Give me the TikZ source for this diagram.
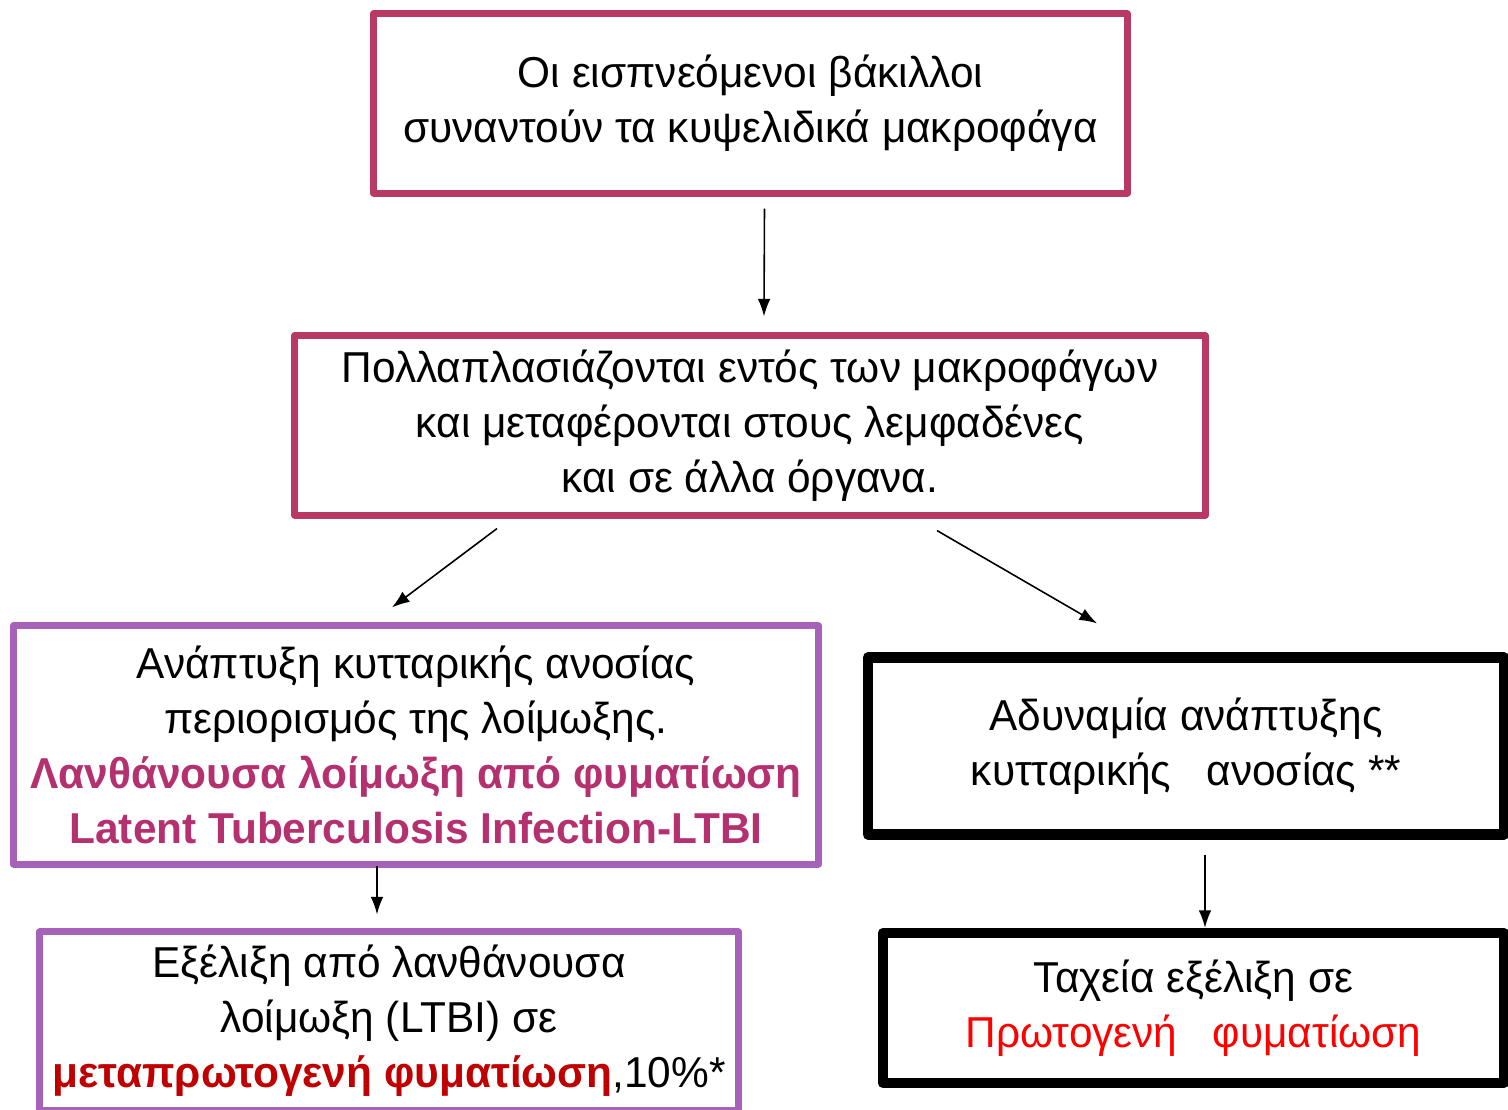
\documentclass[tikz,border=0pt]{standalone}
\usepackage{fontspec}
\setmainfont[FakeStretch=0.98]{Liberation Sans}
\usetikzlibrary{%
  arrows.meta,%
  calc%
}
\definecolor{roseline}{HTML}{B83A64}
\definecolor{lilacline}{HTML}{A662B8}
\definecolor{latentred}{HTML}{B5306E}
\definecolor{darkred}{HTML}{C00000}

\begin{document}
\begin{tikzpicture}[
    x=0.01cm,y=-0.01cm,
    >={Latex[length=5pt,width=3.6pt]},line join=round,
    box/.style={rectangle,draw,fill=white,align=center,inner sep=0pt,
        font=\fontsize{12.3}{15.6}\selectfont},
    rosebox/.style={box,draw=roseline,line width=2pt},
    lilacbox/.style={box,draw=lilacline,line width=2pt},
    blackbox/.style={box,draw=black,line width=2.9pt},
    arr/.style={->,line width=0.45pt}
  ]
    \useasboundingbox (0,0) rectangle (1508,1110);

    \node [rosebox,minimum width=7.53cm,minimum height=1.79cm]
        (inhaled) at (750.5,103.5)
        {Οι εισπνεόμενοι βάκιλλοι\\συναντούν τα κυψελιδικά μακροφάγα};
    \node [rosebox,minimum width=9.10cm,minimum height=1.79cm]
        (multiply) at (750,425.5)
        {Πολλαπλασιάζονται εντός των μακροφάγων\\και μεταφέρονται στους λεμφαδένες\\και σε άλλα όργανα.};
    \node [lilacbox,minimum width=8.04cm,minimum height=2.38cm]
        (immunity) at (416,745)
        {Ανάπτυξη κυτταρικής ανοσίας\\περιορισμός της λοίμωξης.\\
         \textcolor{latentred}{\bfseries Λανθάνουσα λοίμωξη από φυματίωση}\\
         \textcolor{latentred}{\bfseries Latent Tuberculosis Infection-LTBI}};
    \node [blackbox,minimum width=6.36cm,minimum height=1.77cm]
        (noimmunity) at (1186,746)
        {Αδυναμία ανάπτυξης\\κυτταρικής\ \ \ ανοσίας **};
    \node [lilacbox,minimum width=6.98cm,minimum height=1.78cm]
        (reactivation) at (389,1021)
        {Εξέλιξη από λανθάνουσα\\λοίμωξη (LTBI) σε\\
         \textcolor{darkred}{\bfseries μεταπρωτογενή φυματίωση},10\%*};
    \node [blackbox,minimum width=6.21cm,minimum height=1.50cm]
        (primary) at (1193.5,1008)
        {Ταχεία εξέλιξη σε\\\textcolor{red}{Πρωτογενή\ \ \ φυματίωση}};

    % connectors
    \draw [arr] ($(inhaled.south)+(14,12)$) -- ($(multiply.north)+(14,-16)$);
    \draw [arr] ($(multiply.south)+(-253,10)$) -- ($(immunity.north)+(-24,-15)$);
    \draw [arr] ($(multiply.south)+(187,12)$) -- ($(noimmunity.north)+(-89,-29)$);
    \draw [arr] ($(immunity.south)+(-39,-2)$) -- ($(reactivation.north)+(-12,-14)$);
    \draw [arr] ($(noimmunity.south)+(19,15)$) -- ($(primary.north)+(11.5,0)$);
\end{tikzpicture}
\end{document}
